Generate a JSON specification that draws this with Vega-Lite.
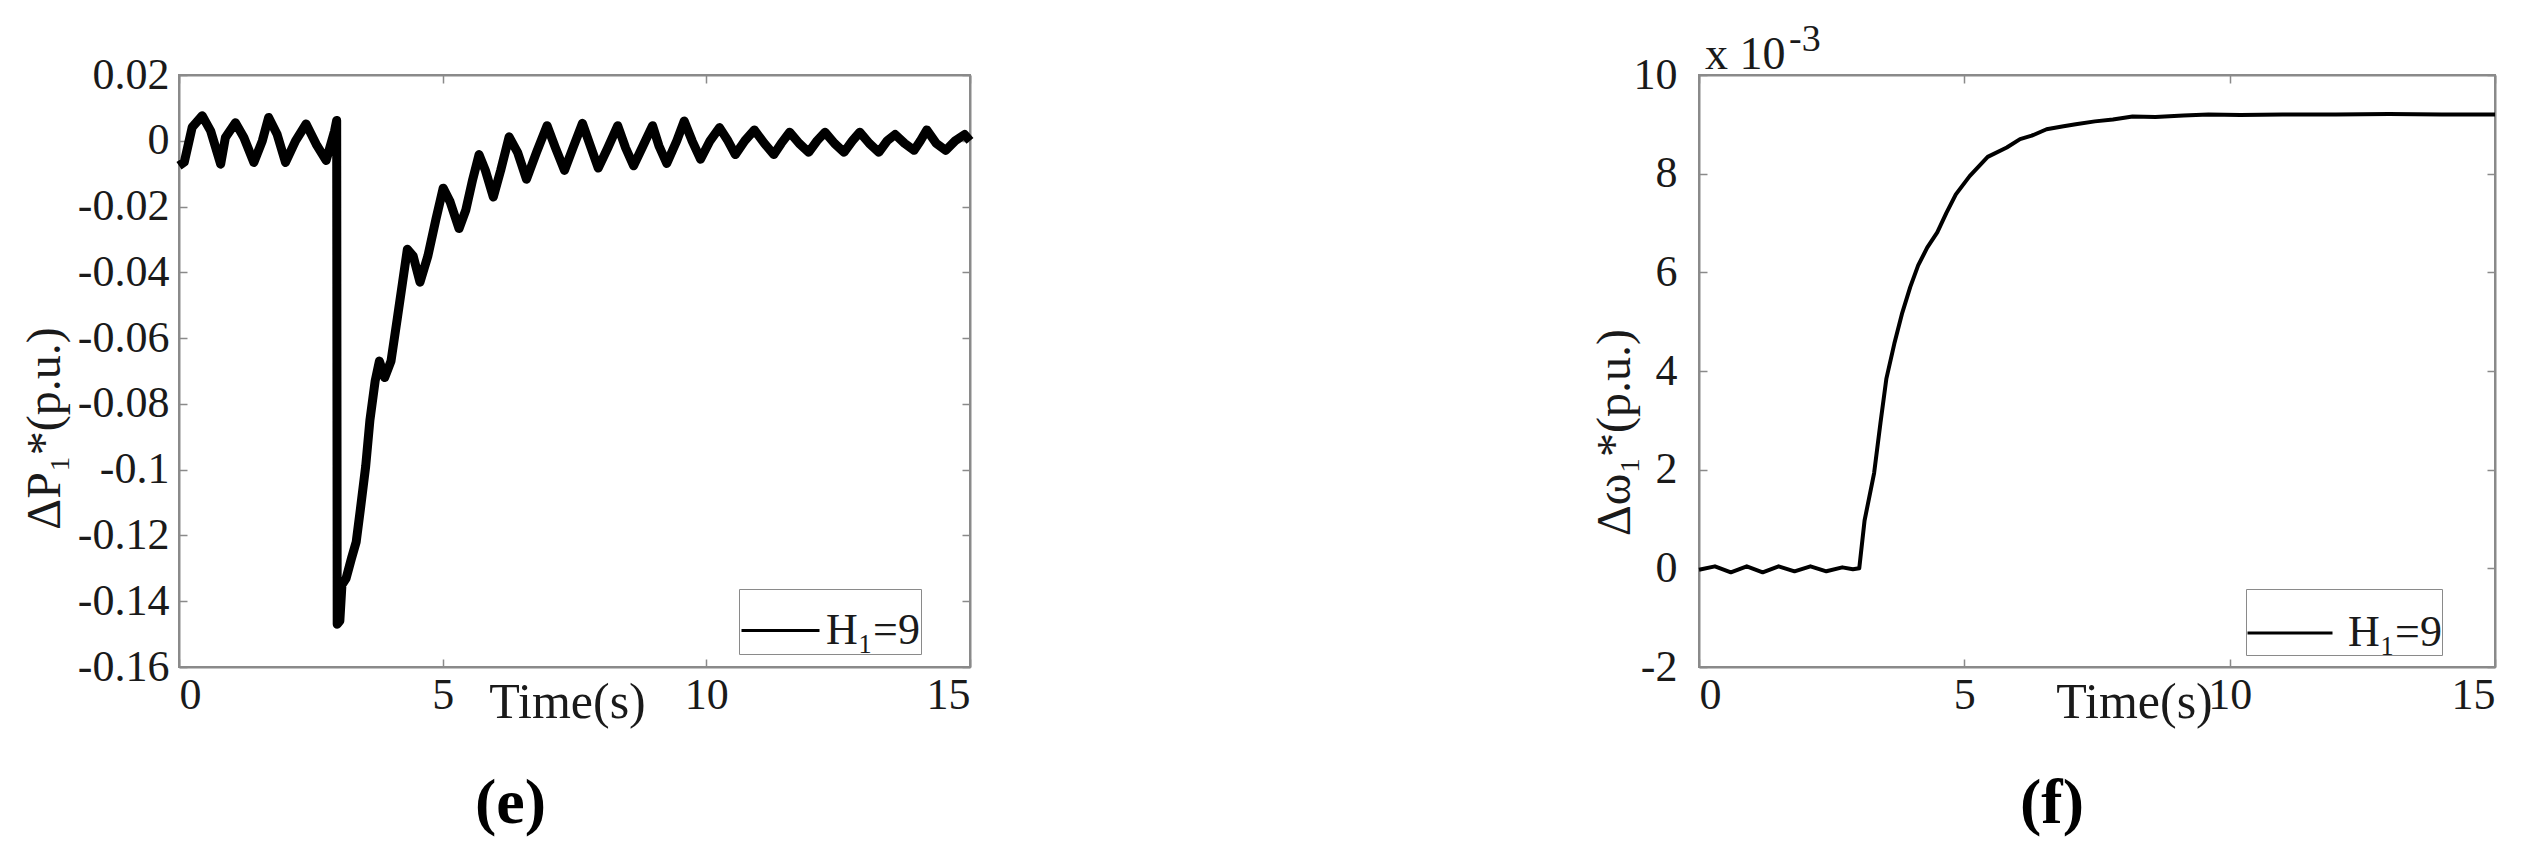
{
  "$schema": "https://vega.github.io/schema/vega-lite/v6.json",
  "background": "white",
  "padding": {"left": 20, "top": 20, "right": 10, "bottom": 10},
  "bounds": "flush",
  "spacing": 729,
  "resolve": {"scale": {"color": "independent"}, "legend": {"color": "independent"}},
  "config": {
    "view": {"stroke": "#8a8a8a", "strokeWidth": 2},
    "font": "Liberation Serif",
    "axis": {
      "grid": false,
      "domainColor": "#8a8a8a",
      "domainWidth": 2,
      "tickColor": "#8a8a8a",
      "tickWidth": 1.5,
      "tickSize": -8,
      "labelFont": "Liberation Serif",
      "labelFontSize": 44,
      "labelColor": "#1a1a1a",
      "titleFont": "Liberation Serif",
      "titleFontSize": 48,
      "titleFontWeight": "normal",
      "titleColor": "#1a1a1a"
    }
  },
  "hconcat": [
    {
      "width": 791,
      "height": 592,
      "title": {"text": "(e)", "orient": "bottom", "frame": "group", "anchor": "middle", "dx": -64, "offset": 96, "baseline": "alphabetic", "fontSize": 64, "fontWeight": "bold", "font": "Liberation Serif", "color": "black"},
      "data": {"values": [
        {"t":0,"v":-0.0076},{"t":0.1,"v":-0.0065},{"t":0.25,"v":0.0041},{"t":0.44,"v":0.0076},{"t":0.6,"v":0.003},{"t":0.79,"v":-0.0071},{"t":0.88,"v":0.001},{"t":1.07,"v":0.0055},{"t":1.23,"v":0.001},{"t":1.42,"v":-0.0066},{"t":1.58,"v":0},{"t":1.7,"v":0.0071},{"t":1.86,"v":0.002},{"t":2.02,"v":-0.0066},{"t":2.21,"v":0},{"t":2.41,"v":0.0051},{"t":2.6,"v":-0.001},{"t":2.79,"v":-0.006},{"t":2.95,"v":0.003},{"t":2.99,"v":0.0062},{"t":3.0,"v":-0.147},{"t":3.05,"v":-0.146},{"t":3.09,"v":-0.135},{"t":3.17,"v":-0.133},{"t":3.27,"v":-0.127},{"t":3.36,"v":-0.122},{"t":3.44,"v":-0.112},{"t":3.54,"v":-0.099},{"t":3.62,"v":-0.085},{"t":3.72,"v":-0.073},{"t":3.8,"v":-0.067},{"t":3.9,"v":-0.072},{"t":4.02,"v":-0.067},{"t":4.14,"v":-0.054},{"t":4.24,"v":-0.043},{"t":4.33,"v":-0.033},{"t":4.44,"v":-0.035},{"t":4.57,"v":-0.043},{"t":4.72,"v":-0.035},{"t":4.87,"v":-0.024},{"t":5.01,"v":-0.0144},{"t":5.14,"v":-0.0185},{"t":5.31,"v":-0.0267},{"t":5.44,"v":-0.021},{"t":5.57,"v":-0.0117},{"t":5.69,"v":-0.0042},{"t":5.81,"v":-0.009},{"t":5.96,"v":-0.0171},{"t":6.1,"v":-0.009},{"t":6.26,"v":0.0012},{"t":6.42,"v":-0.0035},{"t":6.59,"v":-0.0117},{"t":6.78,"v":-0.0035},{"t":6.98,"v":0.0046},{"t":7.14,"v":-0.0022},{"t":7.31,"v":-0.009},{"t":7.47,"v":-0.0022},{"t":7.65,"v":0.0053},{"t":7.8,"v":-0.0015},{"t":7.95,"v":-0.0083},{"t":8.13,"v":-0.0022},{"t":8.32,"v":0.0046},{"t":8.47,"v":-0.0022},{"t":8.62,"v":-0.0076},{"t":8.8,"v":-0.0015},{"t":8.98,"v":0.0046},{"t":9.1,"v":-0.0015},{"t":9.25,"v":-0.0069},{"t":9.44,"v":0},{"t":9.58,"v":0.006},{"t":9.73,"v":0},{"t":9.89,"v":-0.0056},{"t":10.07,"v":0},{"t":10.25,"v":0.004},{"t":10.41,"v":0},{"t":10.55,"v":-0.0042},{"t":10.73,"v":0},{"t":10.91,"v":0.0033},{"t":11.1,"v":-0.0008},{"t":11.28,"v":-0.0042},{"t":11.42,"v":-0.0008},{"t":11.58,"v":0.0026},{"t":11.76,"v":-0.0008},{"t":11.94,"v":-0.0035},{"t":12.1,"v":0},{"t":12.25,"v":0.0026},{"t":12.43,"v":-0.0008},{"t":12.61,"v":-0.0035},{"t":12.77,"v":0},{"t":12.91,"v":0.0026},{"t":13.09,"v":-0.0008},{"t":13.27,"v":-0.0035},{"t":13.43,"v":0},{"t":13.58,"v":0.0019},{"t":13.76,"v":-0.0008},{"t":13.94,"v":-0.0029},{"t":14.06,"v":0},{"t":14.18,"v":0.0033},{"t":14.36,"v":-0.0008},{"t":14.54,"v":-0.0029},{"t":14.72,"v":0},{"t":14.9,"v":0.0019},{"t":15,"v":0}
      ]},
      "layer": [
        {
          "mark": {"type": "line", "strokeWidth": 9, "strokeJoin": "round"},
          "encoding": {
            "x": {"field": "t", "type": "quantitative", "scale": {"domain": [0, 15], "nice": false},
                  "axis": {"orient": "bottom", "values": [0, 5, 10, 15], "labelExpr": "'' + datum.value", "labelPadding": 14, "labelBaseline": "top", "title": "Time(s)", "titleX": 388, "titleY": 50, "titleAlign": "center", "titleBaseline": "alphabetic", "titleFontSize": 50}},
            "y": {"field": "v", "type": "quantitative", "scale": {"domain": [-0.16, 0.02], "nice": false, "zero": false},
                  "axis": {"orient": "left", "values": [-0.16, -0.14, -0.12, -0.1, -0.08, -0.06, -0.04, -0.02, 0, 0.02], "labelExpr": "'' + round(datum.value * 100) / 100", "labelPadding": 18, "title": "ΔP₁*(p.u.)", "titleAngle": 270, "titleX": -120, "titleY": 353, "titleAlign": "center", "titleBaseline": "alphabetic"}},
            "color": {"datum": "H₁=9", "type": "nominal", "scale": {"range": ["black"]},
                      "legend": {"orient": "none", "legendX": 560, "legendY": 514, "title": null, "symbolType": "stroke", "symbolSize": 6084, "symbolStrokeWidth": 3, "labelFont": "Liberation Serif", "labelFontSize": 44, "labelColor": "#1a1a1a", "labelOffset": 5, "padding": 1, "strokeColor": "#8a8a8a", "fillColor": "white", "labelLimit": 400}}
          }
        },
        {
          "mark": {"type": "line", "opacity": 0},
          "encoding": {
            "x": {"field": "t", "type": "quantitative", "axis": {"orient": "top", "values": [0, 5, 10, 15], "labels": false, "title": null}},
            "y": {"field": "v", "type": "quantitative", "axis": {"orient": "right", "values": [-0.16, -0.14, -0.12, -0.1, -0.08, -0.06, -0.04, -0.02, 0, 0.02], "labels": false, "title": null}}
          }
        }
      ],
      "resolve": {"axis": {"x": "independent", "y": "independent"}}
    },
    {
      "width": 796,
      "height": 592,
      "title": {"text": "(f)", "orient": "bottom", "frame": "group", "anchor": "middle", "dx": -45, "offset": 96, "baseline": "alphabetic", "fontSize": 64, "fontWeight": "bold", "font": "Liberation Serif", "color": "black"},
      "data": {"values": [
        {"t":0,"v":-0.03},{"t":0.3,"v":0.04},{"t":0.6,"v":-0.08},{"t":0.9,"v":0.04},{"t":1.2,"v":-0.08},{"t":1.5,"v":0.04},{"t":1.8,"v":-0.06},{"t":2.1,"v":0.04},{"t":2.4,"v":-0.06},{"t":2.7,"v":0.02},{"t":2.9,"v":-0.02},{"t":3.02,"v":0},{"t":3.12,"v":0.97},{"t":3.3,"v":1.93},{"t":3.42,"v":2.95},{"t":3.53,"v":3.84},{"t":3.68,"v":4.55},{"t":3.83,"v":5.18},{"t":3.98,"v":5.7},{"t":4.13,"v":6.14},{"t":4.3,"v":6.5},{"t":4.49,"v":6.81},{"t":4.66,"v":7.2},{"t":4.84,"v":7.58},{"t":5.1,"v":7.95},{"t":5.44,"v":8.34},{"t":5.8,"v":8.53},{"t":6.05,"v":8.7},{"t":6.27,"v":8.77},{"t":6.55,"v":8.9},{"t":6.87,"v":8.96},{"t":7.1,"v":9.0},{"t":7.46,"v":9.06},{"t":7.8,"v":9.1},{"t":8.17,"v":9.16},{"t":8.6,"v":9.15},{"t":9.13,"v":9.18},{"t":9.6,"v":9.2},{"t":10.2,"v":9.19},{"t":11,"v":9.2},{"t":12,"v":9.2},{"t":13,"v":9.21},{"t":14,"v":9.2},{"t":15,"v":9.2}
      ]},
      "layer": [
        {
          "mark": {"type": "line", "strokeWidth": 4, "strokeJoin": "round"},
          "encoding": {
            "x": {"field": "t", "type": "quantitative", "scale": {"domain": [0, 15], "nice": false},
                  "axis": {"orient": "bottom", "values": [0, 5, 10, 15], "labelExpr": "'' + datum.value", "labelPadding": 14, "labelBaseline": "top", "title": "Time(s)", "titleX": 435, "titleY": 50, "titleAlign": "center", "titleBaseline": "alphabetic", "titleFontSize": 50}},
            "y": {"field": "v", "type": "quantitative", "scale": {"domain": [-2, 10], "nice": false, "zero": false},
                  "axis": {"orient": "left", "values": [-2, 0, 2, 4, 6, 8, 10], "labelExpr": "'' + datum.value", "labelPadding": 30, "title": "Δω₁*(p.u.)", "titleAngle": 270, "titleX": -70, "titleY": 357, "titleAlign": "center", "titleBaseline": "alphabetic"}},
            "color": {"datum": "H₁=9", "type": "nominal", "scale": {"range": ["black"]},
                      "legend": {"orient": "none", "legendX": 547, "legendY": 514, "title": null, "symbolType": "stroke", "symbolSize": 7225, "symbolStrokeWidth": 3, "labelFont": "Liberation Serif", "labelFontSize": 44, "labelColor": "#1a1a1a", "labelOffset": 14, "padding": 0, "strokeColor": "#8a8a8a", "fillColor": "white", "labelLimit": 400}}
          }
        },
        {
          "mark": {"type": "line", "opacity": 0},
          "encoding": {
            "x": {"field": "t", "type": "quantitative", "axis": {"orient": "top", "values": [0, 5, 10, 15], "labels": false, "title": null}},
            "y": {"field": "v", "type": "quantitative", "axis": {"orient": "right", "values": [-2, 0, 2, 4, 6, 8, 10], "labels": false, "title": null}}
          }
        },
        {
          "data": {"values": [{"t": 0, "v": 10, "txt": "x 10"}]},
          "mark": {"type": "text", "align": "left", "baseline": "alphabetic", "dx": 6, "dy": -6, "fontSize": 46, "font": "Liberation Serif", "color": "#1a1a1a"},
          "encoding": {
            "x": {"field": "t", "type": "quantitative", "axis": null},
            "y": {"field": "v", "type": "quantitative", "axis": null},
            "text": {"field": "txt"}
          }
        },
        {
          "data": {"values": [{"t": 0, "v": 10, "txt": "-3"}]},
          "mark": {"type": "text", "align": "left", "baseline": "alphabetic", "dx": 90, "dy": -24, "fontSize": 38, "font": "Liberation Serif", "color": "#1a1a1a"},
          "encoding": {
            "x": {"field": "t", "type": "quantitative", "axis": null},
            "y": {"field": "v", "type": "quantitative", "axis": null},
            "text": {"field": "txt"}
          }
        }
      ],
      "resolve": {"axis": {"x": "independent", "y": "independent"}}
    }
  ]
}
